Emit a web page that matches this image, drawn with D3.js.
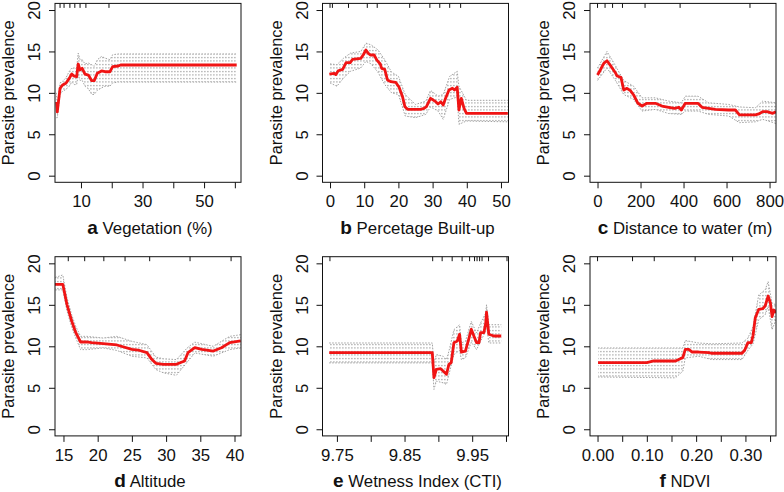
<!DOCTYPE html>
<html><head><meta charset="utf-8">
<script src="https://cdn.jsdelivr.net/npm/d3@7"></script>
<style>body{margin:0;background:#fff} text{font-family:"Liberation Sans",Arial,Helvetica,sans-serif;fill:#111}</style>
</head><body>
<svg id="chart" width="784" height="492"></svg>
<script>
// ---------- DATA ----------
const yTicks = [0, 5, 10, 15, 20];
const yLabel = "Parasite prevalence";

// a Vegetation (%)
const vegX   = [2.1, 2.3, 3.2, 4.0, 5.1, 6.2, 7.0, 7.8, 8.6, 9.1, 9.7, 10.4, 11.3, 12.4, 13.5, 14.3, 15.3, 16.7, 17.8, 19.4, 20.3, 22.1, 22.9, 60.6];
const vegFit = [8.9, 7.7, 10.55, 10.95, 11.15, 11.75, 12.27, 12.03, 11.95, 13.48, 12.76, 12.96, 12.27, 12.15, 11.47, 11.47, 12.36, 12.64, 12.55, 12.55, 13.16, 13.24, 13.36, 13.36];
const vegBandX = [2.0, 2.3, 3.2, 4.0, 5.1, 6.2, 7.0, 7.8, 8.6, 9.1, 9.7, 10.4, 11.3, 12.4, 13.5, 14.3, 15.3, 16.7, 17.8, 19.4, 20.3, 22.1, 60.6];
const vegLo  = [7.0, 7.0, 9.8, 10.2, 10.4, 10.8, 11.3, 11.0, 11.0, 12.2, 11.5, 11.5, 10.8, 10.5, 9.8, 9.8, 10.3, 10.6, 10.8, 10.8, 11.2, 11.3, 11.3];
const vegHi  = [10.0, 8.6, 11.2, 11.4, 11.8, 12.6, 13.0, 13.0, 13.0, 14.8, 14.0, 14.0, 13.5, 13.6, 13.4, 13.2, 14.0, 14.4, 14.2, 14.0, 14.6, 14.7, 14.7];
const vegRug = [3.2, 4.5, 6.4, 8.0, 9.7, 11.6, 19.1];
const vegTicks = [10, 20, 30, 40, 50, 60];
const vegTickLabels = ["10", "", "30", "", "50", ""];

// b Percetage Built-up
const bltX   = [-0.2, 1.25, 1.7, 2.4, 3.7, 4.7, 5.9, 6.6, 9.0, 9.7, 10.5, 11.2, 11.8, 12.9, 13.7, 14.7, 15.1, 16.0, 16.8, 17.8, 19.2, 20.2, 21.2, 21.9, 22.7, 26.5, 27.5, 28.2, 28.9, 29.4, 30.2, 30.9, 31.6, 32.4, 33.1, 33.8, 34.8, 35.8, 36.4, 37.2, 37.7, 38.4, 39.2, 39.9, 52.0];
const bltFit = [12.27, 12.36, 12.2, 12.67, 12.84, 13.64, 13.64, 14.05, 14.17, 14.57, 15.17, 14.77, 14.57, 14.57, 13.96, 13.48, 12.96, 12.84, 11.55, 11.35, 11.27, 10.67, 9.54, 8.33, 8.01, 8.01, 8.13, 8.33, 8.93, 9.34, 9.13, 8.93, 8.65, 8.93, 8.53, 9.34, 10.34, 10.55, 10.34, 10.67, 7.93, 9.34, 8.13, 7.53, 7.53];
const bltBandX = [0, 2, 4, 6, 9, 10.5, 12, 14, 16, 18, 20, 22, 25, 28, 29.4, 31.6, 33.1, 35, 37.2, 37.7, 39.9, 52];
const bltLo  = [11.2, 10.8, 11.8, 12.6, 13.0, 13.8, 13.5, 12.5, 11.0, 10.0, 9.8, 7.2, 7.0, 7.4, 8.3, 7.8, 6.8, 9.2, 9.5, 6.2, 6.6, 6.5];
const bltHi  = [13.5, 13.4, 14.2, 14.8, 15.0, 16.0, 15.8, 15.2, 14.0, 12.5, 12.0, 9.8, 8.6, 9.0, 10.3, 9.6, 9.8, 12.0, 12.6, 10.8, 9.1, 9.1];
const bltRug = [0, 0.7, 5.4, 10.9, 13.8, 23.3, 29.2, 32.1, 35.0, 38.2];
const bltTicks = [0, 10, 20, 30, 40, 50];
const bltTickLabels = ["0", "10", "20", "30", "40", "50"];

// c Distance to water (m)
const wtrX   = [0, 13, 29, 44, 64, 83, 91, 109, 122, 137, 153, 168, 188, 207, 230, 269, 300, 331, 359, 378, 390, 408, 455, 467, 486, 517, 548, 610, 641, 660, 734, 750, 768, 788, 815, 830];
const wtrFit = [12.15, 12.76, 13.56, 13.88, 13.16, 12.43, 12.03, 11.87, 10.34, 10.55, 10.26, 9.74, 8.74, 8.41, 8.74, 8.74, 8.41, 8.26, 8.13, 8.26, 7.93, 8.74, 8.74, 8.74, 8.26, 8.13, 8.01, 7.93, 7.93, 7.33, 7.33, 7.45, 7.73, 7.73, 7.53, 7.73];
const wtrBandX = [0, 44, 83, 122, 168, 207, 269, 331, 390, 408, 467, 517, 610, 660, 734, 768, 830];
const wtrLo  = [11.5, 13.0, 11.5, 9.8, 9.2, 7.8, 8.0, 7.5, 7.4, 7.8, 7.8, 7.4, 7.2, 6.4, 6.5, 6.8, 6.3];
const wtrHi  = [13.0, 15.0, 13.3, 11.5, 10.8, 9.4, 9.4, 9.0, 8.8, 9.6, 9.6, 8.8, 8.6, 8.3, 8.2, 9.0, 8.8];
const wtrRug = [0, 35, 70, 116, 221, 384, 709];
const wtrTicks = [0, 200, 400, 600, 800];
const wtrTickLabels = ["0", "200", "400", "600", "800"];

// d Altitude
const altX   = [13.76, 14.9, 15.5, 16.2, 16.8, 17.5, 18.4, 19.1, 20.8, 22.8, 25.0, 25.9, 27.2, 27.9, 28.5, 29.6, 31.5, 32.7, 33.2, 34.2, 35.2, 36.9, 38.1, 39.3, 40.9];
const altFit = [17.47, 17.47, 15.06, 13.05, 11.64, 10.52, 10.54, 10.44, 10.32, 10.16, 9.63, 9.55, 9.23, 8.43, 7.95, 7.83, 7.83, 8.23, 9.23, 9.83, 9.63, 9.43, 9.83, 10.44, 10.64];
const altBandX = [13.8, 14.9, 15.5, 16.2, 16.8, 17.5, 18.4, 20.8, 22.8, 25.0, 27.2, 28.5, 29.6, 31.5, 33.2, 34.2, 36.9, 39.3, 40.9];
const altLo  = [16.8, 16.8, 14.3, 12.3, 11.0, 9.6, 9.6, 9.8, 9.5, 8.8, 8.6, 7.2, 6.8, 6.5, 8.2, 9.2, 8.8, 9.6, 9.8];
const altHi  = [18.3, 18.6, 15.9, 13.8, 12.4, 11.2, 11.2, 11.0, 11.2, 10.6, 10.2, 8.7, 8.5, 8.4, 9.9, 10.5, 10.0, 11.2, 11.4];
const altRug = [15.7, 18.1, 20.9, 24.0, 27.6, 33.5, 39.5];
const altTicks = [15, 20, 25, 30, 35, 40];
const altTickLabels = ["15", "20", "25", "30", "35", "40"];

// e Wetness Index (CTI)
const ctiX   = [9.7386, 9.891, 9.8935, 9.897, 9.9034, 9.907, 9.912, 9.9156, 9.919, 9.923, 9.928, 9.9314, 9.934, 9.940, 9.945, 9.9487, 9.9525, 9.9565, 9.960, 9.9624, 9.9673, 9.970, 9.9712, 9.9746, 9.982, 9.993];
const ctiFit = [9.23, 9.23, 6.22, 7.23, 7.3, 7.03, 6.63, 7.83, 8.03, 10.44, 10.64, 11.45, 9.31, 9.43, 10.89, 12.05, 11.24, 10.44, 10.44, 11.64, 11.64, 12.77, 14.13, 11.45, 11.24, 11.24];
const ctiBandX = [9.7386, 9.891, 9.8935, 9.897, 9.907, 9.912, 9.9156, 9.923, 9.9314, 9.934, 9.940, 9.9487, 9.9565, 9.9624, 9.970, 9.9712, 9.9746, 9.993];
const ctiLo  = [8.0, 8.0, 4.8, 5.8, 5.6, 5.4, 6.6, 9.0, 9.5, 8.4, 8.6, 10.5, 9.6, 10.6, 11.8, 12.6, 10.4, 10.4];
const ctiHi  = [10.4, 10.4, 8.0, 9.0, 8.8, 8.4, 9.4, 12.0, 12.6, 10.4, 10.6, 13.0, 11.6, 12.8, 14.0, 15.0, 12.6, 12.6];
const ctiRug = [9.7397, 9.8916, 9.9056, 9.9204, 9.9351, 9.9462, 9.9535, 9.9572, 9.961, 9.9646, 9.9742, 10.0015];
const ctiTicks = [9.75, 9.80, 9.85, 9.90, 9.95, 10.00];
const ctiTickLabels = ["9.75", "", "9.85", "", "9.95", ""];

// f NDVI
const ndvX   = [0.001, 0.100, 0.114, 0.158, 0.168, 0.173, 0.178, 0.185, 0.192, 0.205, 0.226, 0.232, 0.293, 0.2987, 0.305, 0.312, 0.3155, 0.320, 0.327, 0.335, 0.340, 0.346, 0.3506, 0.354, 0.3575, 0.3622];
const ndvFit = [8.03, 8.03, 8.23, 8.23, 8.51, 8.63, 9.63, 9.63, 9.31, 9.31, 9.23, 9.16, 9.16, 9.55, 10.44, 10.44, 11.33, 13.45, 14.46, 14.53, 14.86, 16.06, 15.25, 13.57, 14.37, 14.05];
const ndvBandX = [0.001, 0.158, 0.173, 0.178, 0.205, 0.232, 0.293, 0.305, 0.3155, 0.327, 0.340, 0.346, 0.354, 0.362];
const ndvLo  = [6.3, 6.2, 7.0, 8.6, 8.8, 8.4, 8.4, 9.5, 10.3, 13.2, 13.8, 14.8, 12.0, 13.2];
const ndvHi  = [9.8, 9.8, 9.8, 10.7, 10.4, 10.3, 10.4, 11.0, 12.4, 16.2, 16.8, 17.8, 15.2, 15.0];
const ndvRug = [0, 0.071, 0.115, 0.198, 0.274, 0.309, 0.345];
const ndvTicks = [0, 0.05, 0.10, 0.15, 0.20, 0.25, 0.30, 0.35];
const ndvTickLabels = ["0.00", "", "0.10", "", "0.20", "", "0.30", ""];

// ---------- LAYOUT ----------
const colLeft = [55, 322.5, 590], colRight = [241, 508.5, 776];
const rowTop = [3.4, 256.7], rowBottom = [182.3, 435.9];

const panels = [
  {letter: "a", title: "Vegetation (%)", x: vegX, fit: vegFit, bx: vegBandX, lo: vegLo, hi: vegHi, rug: vegRug, ticks: vegTicks, tl: vegTickLabels, dom: [1.56, 62.0], col: 0, row: 0},
  {letter: "b", title: "Percetage Built-up", x: bltX, fit: bltFit, bx: bltBandX, lo: bltLo, hi: bltHi, rug: bltRug, ticks: bltTicks, tl: bltTickLabels, dom: [-2.2, 52.2], col: 1, row: 0},
  {letter: "c", title: "Distance to water (m)", x: wtrX, fit: wtrFit, bx: wtrBandX, lo: wtrLo, hi: wtrHi, rug: wtrRug, ticks: wtrTicks, tl: wtrTickLabels, dom: [-35, 830], col: 2, row: 0},
  {letter: "d", title: "Altitude", x: altX, fit: altFit, bx: altBandX, lo: altLo, hi: altHi, rug: altRug, ticks: altTicks, tl: altTickLabels, dom: [13.76, 40.95], col: 0, row: 1},
  {letter: "e", title: "Wetness Index (CTI)", x: ctiX, fit: ctiFit, bx: ctiBandX, lo: ctiLo, hi: ctiHi, rug: ctiRug, ticks: ctiTicks, tl: ctiTickLabels, dom: [9.7287, 10.0037], col: 1, row: 1},
  {letter: "f", title: "NDVI", x: ndvX, fit: ndvFit, bx: ndvBandX, lo: ndvLo, hi: ndvHi, rug: ndvRug, ticks: ndvTicks, tl: ndvTickLabels, dom: [-0.0153, 0.362], col: 2, row: 1}
];

const svg = d3.select("#chart");
const defs = svg.append("defs");
const pat = defs.append("pattern").attr("id", "dots").attr("patternUnits", "userSpaceOnUse")
  .attr("width", 3).attr("height", 3.5);
pat.append("rect").attr("x", 0).attr("y", 1).attr("width", 1.7).attr("height", 1).attr("fill", "#a2a2a2");

const FS = 16.8, FSY = 16.4;

panels.forEach((p, i) => {
  const L = colLeft[p.col], R = colRight[p.col], T = rowTop[p.row], B = rowBottom[p.row];
  const x = d3.scaleLinear().domain(p.dom).range([L, R]);
  const y = d3.scaleLinear().domain([-0.8, 20.8]).range([B, T]);
  const g = svg.append("g");

  defs.append("clipPath").attr("id", "clip" + i).append("rect")
    .attr("x", L).attr("y", T).attr("width", R - L).attr("height", B - T);
  const plot = g.append("g").attr("clip-path", `url(#clip${i})`);

  const band = p.bx.map((v, k) => ({x: v, lo: p.lo[k], hi: p.hi[k]}));
  plot.append("path").datum(band)
    .attr("d", d3.area().x(d => x(d.x)).y0(d => y(d.lo)).y1(d => y(d.hi)))
    .attr("fill", "url(#dots)");
  ["lo", "hi"].forEach(key => {
    plot.append("path").datum(band)
      .attr("d", d3.line().x(d => x(d.x)).y(d => y(d[key])))
      .attr("fill", "none").attr("stroke", "#a2a2a2").attr("stroke-width", 1)
      .attr("stroke-dasharray", "1.5,1.5");
  });

  const fitData = p.x.map((v, k) => ({x: v, y: p.fit[k]}));
  plot.append("path").datum(fitData)
    .attr("d", d3.line().x(d => x(d.x)).y(d => y(d.y)))
    .attr("fill", "none").attr("stroke", "#f01414").attr("stroke-width", 2.8)
    .attr("stroke-linejoin", "round");

  // rug
  g.selectAll(null).data(p.rug).enter().append("line")
    .attr("x1", d => x(d)).attr("x2", d => x(d))
    .attr("y1", T).attr("y2", T + 4.5)
    .attr("stroke", "#111").attr("stroke-width", 1);

  // box
  g.append("rect").attr("x", L).attr("y", T).attr("width", R - L).attr("height", B - T)
    .attr("fill", "none").attr("stroke", "#111").attr("stroke-width", 1);

  // x axis
  const xa = g.append("g").attr("transform", `translate(0,${B})`)
    .call(d3.axisBottom(x).tickValues(p.ticks).tickFormat((d, k) => p.tl[k]).tickSize(6).tickSizeOuter(0));
  xa.select(".domain").remove();
  xa.selectAll(".tick line").attr("stroke", "#111");
  xa.selectAll(".tick text").attr("y", 25).attr("dy", null)
    .style("font-size", FS + "px").style("font-family", '"Liberation Sans",Arial,sans-serif').attr("fill", "#111");

  // y axis
  const ya = g.append("g").attr("transform", `translate(${L},0)`)
    .call(d3.axisLeft(y).tickValues(yTicks).tickSize(6).tickSizeOuter(0));
  ya.select(".domain").remove();
  ya.selectAll(".tick line").attr("stroke", "#111");
  ya.selectAll(".tick text").attr("transform", "rotate(-90)").attr("x", 0).attr("y", -15)
    .attr("dy", null).attr("text-anchor", "middle")
    .style("font-size", FS + "px").style("font-family", '"Liberation Sans",Arial,sans-serif').attr("fill", "#111");

  // y title
  g.append("text").attr("transform", `translate(${L - 41},${(T + B) / 2}) rotate(-90)`)
    .attr("text-anchor", "middle").style("font-size", FSY + "px").text(yLabel);

  // x title
  const t = g.append("text").attr("x", (L + R) / 2 + 2).attr("y", p.row === 0 ? 233.5 : 487)
    .attr("text-anchor", "middle").style("font-size", FS + "px");
  t.append("tspan").style("font-weight", "bold").style("font-size", "19px").text(p.letter);
  t.append("tspan").text(" " + p.title);
});
</script>
</body></html>
